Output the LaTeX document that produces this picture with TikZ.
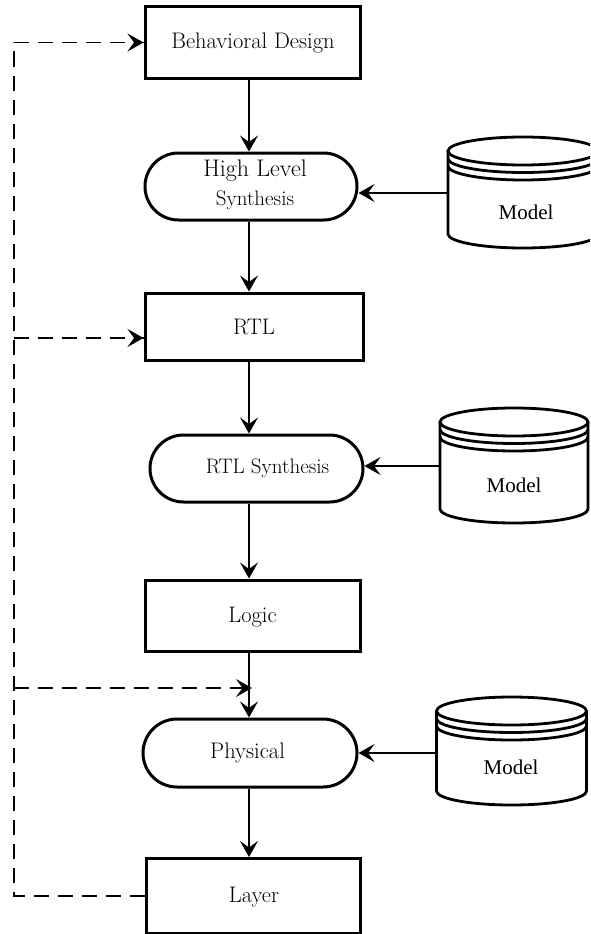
\documentclass[tikz,border=0pt]{standalone}
\usepackage{fontspec}
\newfontfamily\modelfont{Liberation Serif}
\usetikzlibrary{arrows.meta,shapes.misc,calc}

\newcommand\pfont[1]{\fontsize{#1}{#1}\selectfont}

% drum-shaped model store: centre x, top-ellipse y, bottom-ellipse y, half width, name
\newcommand\modeldrum[5]{%
  \draw[drum] (#1-#4,#2) -- (#1-#4,#3) arc (180:360:#4pt and 14pt) -- (#1+#4,#2);
  \draw[drum] (#1,#2) ellipse (#4pt and 14pt);
  \draw[drum] (#1-#4,#2+7.5) arc (180:360:#4pt and 14pt);
  \draw[drum] (#1-#4,#2+15) arc (180:360:#4pt and 14pt);
  \coordinate (#5) at (#1-#4,0);
}

\begin{document}
\begin{tikzpicture}[x=1pt,y=-1pt,
  box/.style={draw,line width=3pt,rectangle,inner sep=0pt},
  stadium/.style={draw,line width=3pt,rounded rectangle,inner sep=0pt},
  drum/.style={line width=2.8pt},
  flow/.style={line width=1.8pt,-{Stealth[length=16pt,width=18pt,inset=6.5pt]}},
  fb/.style={line width=1.9pt,dash pattern=on 15pt off 9pt},
  lbl/.style={inner sep=0pt,font=\pfont{22.5}},
  mlbl/.style={inner sep=0pt,font=\modelfont\pfont{21}}]

\useasboundingbox (0,0) rectangle (590,934);
\clip (0,0) rectangle (590,934);

\coordinate (axis) at (249,0);
\coordinate (fbx) at (14,0);

% main flow
\node[box,minimum width=215pt,minimum height=71pt] (bd) at (252.5,42.5) {};
\node[lbl] (bdt) at (253,43) {Behavioral Design};

\node[stadium,minimum width=212pt,minimum height=67pt] (hls) at (251,186.5) {};
\node[lbl,align=center] (hlst) at (255,185) {{\pfont{24}High Level}\\[6pt]{\pfont{21}Synthesis}};

\node[box,minimum width=218pt,minimum height=67pt] (rtl) at (254,326.5) {};
\node[lbl] (rtlt) at (254,327) {RTL};

\node[stadium,minimum width=213pt,minimum height=67pt] (rsyn) at (256.5,468.5) {};
\node[lbl,font=\pfont{21}] (rsynt) at (267.5,468) {RTL Synthesis};

\node[box,minimum width=215pt,minimum height=71pt] (logic) at (252.5,615.5) {};
\node[lbl] (logict) at (252.5,617) {Logic};

\node[stadium,minimum width=214pt,minimum height=68pt] (phys) at (250,753) {};
\node[lbl] (physt) at (247.5,753) {Physical};

\node[box,minimum width=214pt,minimum height=75pt] (layer) at (253,896) {};
\node[lbl] (layert) at (254,897) {Layer};

\draw[flow] (bd.south -| axis) -- (hls.north -| axis);
\draw[flow] (hls.south -| axis) -- (rtl.north -| axis);
\draw[flow] (rtl.south -| axis) -- (rsyn.north -| axis);
\draw[flow] (rsyn.south -| axis) -- (logic.north -| axis);
\draw[flow] (logic.south -| axis) -- (phys.north -| axis);
\draw[flow] (phys.south -| axis) -- (layer.north -| axis);

% model stores
\modeldrum{523}{151}{234}{75}{m1x}
\node[mlbl] (m1t) at (526,212) {Model};
\modeldrum{514}{422}{509}{74}{m2x}
\node[mlbl] (m2t) at (514,485) {Model};
\modeldrum{511.5}{711}{791}{75}{m3x}
\node[mlbl] (m3t) at (511,767) {Model};

\coordinate (m1) at (m1x |- 0,193);
\coordinate (m2) at (m2x |- 0,466);
\coordinate (m3) at (m3x |- 0,753);
\draw[flow] (m1) -- (m1 -| hls.east);
\draw[flow] (m2) -- (m2 -| rsyn.east);
\draw[flow] (m3) -- (m3 -| phys.east);

% feedback paths
\coordinate (rin) at ([yshift=-11.5pt]rtl.west);
\coordinate (pin) at (axis |- 0,688);
\draw[fb] (layer.west) -| (fbx |- bd.west) -- (bd.west);
\draw[fb] (fbx |- rin) -- (rin);
\draw[fb] (fbx |- pin) -- (pin);
\draw[flow] ([xshift=-1pt]bd.west) -- (bd.west);
\draw[flow] ([xshift=-1pt]rin) -- (rin);
\draw[flow] ([xshift=-1pt]pin) -- ([xshift=3pt]pin);
\end{tikzpicture}
\end{document}
